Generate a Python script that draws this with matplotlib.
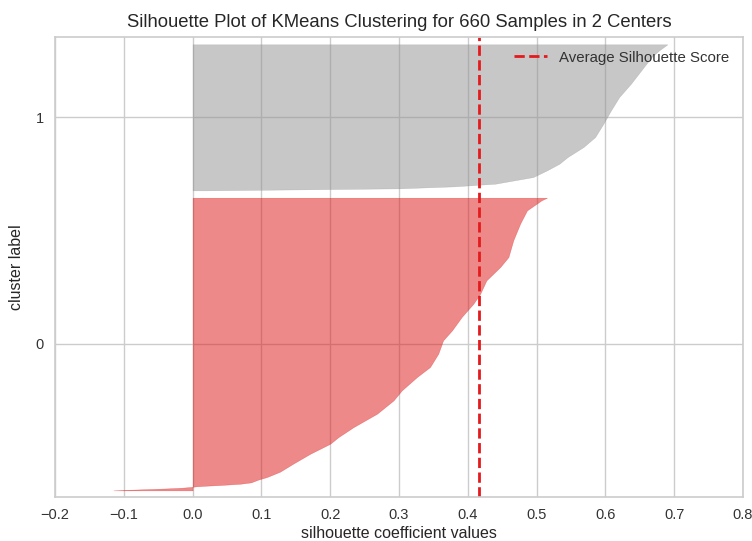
import numpy as np
import matplotlib.pyplot as plt

plt.rcParams['font.family'] = ['Liberation Sans', 'DejaVu Sans']

# cluster sizes and labels
cluster_labels = [0, 1]
cluster_sizes = [440, 220]
avg_score = 0.416

# sorted silhouette values read at selected sample ranks within each cluster
c0_rank = [0, 1, 2, 3, 4, 5, 6, 7, 8, 10, 12, 16, 20, 28, 40, 55, 70, 80, 95,
           115, 135, 150, 170, 185, 205, 225, 240, 260, 280, 295, 315, 335,
           350, 375, 400, 420, 435, 439]
c0_vals = [-0.115, -0.09, -0.06, -0.035, -0.015, -0.003, 0.005, 0.02, 0.04,
           0.07, 0.085, 0.095, 0.108, 0.127, 0.146, 0.171, 0.2, 0.212, 0.234,
           0.268, 0.292, 0.304, 0.326, 0.345, 0.357, 0.364, 0.377, 0.391,
           0.408, 0.418, 0.427, 0.447, 0.459, 0.466, 0.476, 0.486, 0.507, 0.515]

c1_rank = [0, 3, 6, 10, 20, 30, 40, 50, 65, 80, 100, 120, 140, 160, 180, 200,
           210, 219]
c1_vals = [0.02, 0.30, 0.38, 0.44, 0.495, 0.515, 0.533, 0.545, 0.568, 0.585,
           0.597, 0.608, 0.62, 0.637, 0.652, 0.667, 0.678, 0.69]

ranks = [c0_rank, c1_rank]
values = [c0_vals, c1_vals]
colors = ['#dd1515', '#919191']

fig = plt.figure(figsize=(7.52, 5.41), dpi=100)
ax = fig.add_axes([0.0731, 0.0813, 0.915, 0.8503])

y_lower = 10
tick_pos = []
for idx in cluster_labels:
    y = y_lower + np.array(ranks[idx])
    ax.fill_betweenx(y, 0, values[idx], facecolor=colors[idx],
                     edgecolor=colors[idx], alpha=0.5, linewidth=0.3)
    tick_pos.append(y_lower + 0.5 * cluster_sizes[idx])
    y_lower = y_lower + cluster_sizes[idx] + 10

ax.axvline(avg_score, color='#e41a1c', linestyle='--', linewidth=2,
           label='Average Silhouette Score')

n_samples = sum(cluster_sizes)
ax.set_ylim(0, n_samples + (len(cluster_labels) + 1) * 10)
ax.set_xlim(-0.2, 0.8)
xt = np.arange(-0.2, 0.81, 0.1)
ax.set_xticks(xt)
ax.set_xticklabels([f'{v:.1f}'.replace('-', '\u2212') for v in xt])
ax.set_yticks(tick_pos)
ax.set_yticklabels([str(c) for c in cluster_labels])

ax.set_axisbelow(True)
ax.grid(True, color='#cccccc', linewidth=1)
for s in ax.spines.values():
    s.set_color('#cccccc')
    s.set_linewidth(1.2)
ax.tick_params(length=0, labelsize=10.5, labelcolor='#333333', pad=8)

ax.set_title(f'Silhouette Plot of KMeans Clustering for {n_samples} Samples in {len(cluster_labels)} Centers',
             fontsize=13.3, color='#262626', pad=7)
ax.set_xlabel('silhouette coefficient values', fontsize=11.5, color='#262626', labelpad=3)
ax.set_ylabel('cluster label', fontsize=11.5, color='#262626', labelpad=8)

leg = ax.legend(loc='upper right', frameon=False, fontsize=10.8, handlelength=2.2)
for t in leg.get_texts():
    t.set_color('#333333')

fig.savefig('out.png', dpi=100)
